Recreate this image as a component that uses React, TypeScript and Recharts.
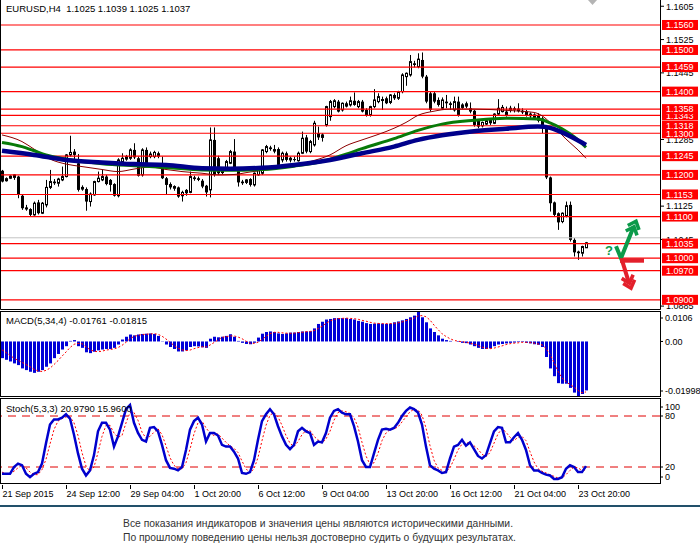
import React from "react";
import { ComposedChart, Bar, Line, XAxis, YAxis, ReferenceLine, ReferenceDot } from "recharts";

const FONT = '"Liberation Sans", Arial, sans-serif';

// ---------- candles (EURUSD H4) ----------
const openP = [
  1.1210,1.1186,1.1192,1.1194,1.1196,1.1150,1.1122,1.1118,1.1104,1.1134,
  1.1108,1.1128,1.1170,1.1184,1.1180,1.1188,1.1196,1.1248,1.1256,1.1228,
  1.1166,1.1166,1.1136,1.1152,1.1184,1.1188,1.1196,1.1188,1.1178,1.1150,
  1.1230,1.1238,1.1240,1.1260,1.1240,1.1200,1.1260,1.1244,1.1244,1.1252,
  1.1228,1.1192,1.1178,1.1168,1.1170,1.1150,1.1164,1.1158,1.1194,1.1192,
  1.1186,1.1174,1.1164,1.1284,1.1240,1.1206,1.1216,1.1228,1.1256,1.1212,
  1.1184,1.1182,1.1190,1.1176,1.1200,1.1204,1.1256,1.1266,1.1262,1.1262,
  1.1236,1.1252,1.1236,1.1238,1.1234,1.1252,1.1290,1.1256,1.1272,1.1300,
  1.1290,1.1320,1.1340,1.1364,1.1376,1.1356,1.1372,1.1368,1.1378,1.1364,
  1.1376,1.1356,1.1344,1.1364,1.1376,1.1380,1.1384,1.1374,1.1392,1.1384,
  1.1400,1.1436,1.1440,1.1468,1.1460,1.1476,1.1436,1.1396,1.1396,1.1380,
  1.1360,1.1376,1.1372,1.1356,1.1376,1.1362,1.1372,1.1360,1.1354,1.1330,
  1.1318,1.1322,1.1332,1.1324,1.1346,1.1352,1.1352,1.1356,1.1360,1.1354,
  1.1354,1.1352,1.1342,1.1338,1.1344,1.1336,1.1318,1.1194,1.1134,1.1108,
  1.1088,1.1102,1.1128,1.1044,1.1016,1.1012,1.1025,
];
const highP = [
  1.1212,1.1194,1.1199,1.1202,1.1198,1.1152,1.1128,1.1120,1.1136,1.1140,
  1.1135,1.1188,1.1212,1.1190,1.1193,1.1220,1.1250,1.1294,1.1262,1.1250,
  1.1175,1.1170,1.1158,1.1186,1.1208,1.1212,1.1200,1.1190,1.1180,1.1240,
  1.1252,1.1248,1.1264,1.1276,1.1244,1.1264,1.1266,1.1256,1.1258,1.1256,
  1.1244,1.1195,1.1182,1.1175,1.1172,1.1162,1.1166,1.1208,1.1198,1.1196,
  1.1190,1.1176,1.1314,1.1314,1.1246,1.1212,1.1236,1.1260,1.1286,1.1214,
  1.1188,1.1190,1.1192,1.1206,1.1216,1.1262,1.1272,1.1270,1.1272,1.1266,
  1.1256,1.1256,1.1244,1.1244,1.1256,1.1304,1.1296,1.1284,1.1330,1.1316,
  1.1300,1.1366,1.1380,1.1382,1.1380,1.1374,1.1376,1.1388,1.1398,1.1380,
  1.1380,1.1360,1.1366,1.1406,1.1396,1.1388,1.1388,1.1394,1.1396,1.1402,
  1.1444,1.1446,1.1488,1.1474,1.1492,1.1494,1.1440,1.1400,1.1400,1.1386,
  1.1386,1.1392,1.1376,1.1388,1.1388,1.1372,1.1376,1.1374,1.1356,1.1332,
  1.1328,1.1334,1.1336,1.1348,1.1382,1.1368,1.1364,1.1366,1.1364,1.1372,
  1.1360,1.1356,1.1350,1.1348,1.1348,1.1340,1.1320,1.1196,1.1136,1.1110,
  1.1110,1.1136,1.1136,1.1048,1.1018,1.1030,1.1039,
];
const lowP = [
  1.1182,1.1184,1.1190,1.1188,1.1144,1.1116,1.1114,1.1100,1.1102,1.1105,
  1.1106,1.1122,1.1166,1.1176,1.1172,1.1185,1.1194,1.1244,1.1232,1.1160,
  1.1162,1.1114,1.1124,1.1150,1.1182,1.1185,1.1175,1.1160,1.1148,1.1146,
  1.1228,1.1234,1.1236,1.1238,1.1196,1.1196,1.1220,1.1240,1.1240,1.1240,
  1.1190,1.1152,1.1165,1.1162,1.1145,1.1136,1.1150,1.1156,1.1186,1.1185,
  1.1168,1.1148,1.1146,1.1196,1.1200,1.1202,1.1212,1.1226,1.1214,1.1172,
  1.1176,1.1178,1.1172,1.1172,1.1198,1.1200,1.1252,1.1258,1.1252,1.1220,
  1.1230,1.1232,1.1230,1.1232,1.1232,1.1250,1.1252,1.1252,1.1268,1.1284,
  1.1280,1.1316,1.1330,1.1360,1.1350,1.1352,1.1362,1.1364,1.1366,1.1360,
  1.1350,1.1340,1.1340,1.1360,1.1372,1.1356,1.1370,1.1370,1.1380,1.1380,
  1.1396,1.1414,1.1436,1.1458,1.1456,1.1432,1.1372,1.1352,1.1372,1.1364,
  1.1356,1.1360,1.1356,1.1352,1.1340,1.1358,1.1360,1.1348,1.1316,1.1312,
  1.1314,1.1320,1.1320,1.1322,1.1344,1.1350,1.1340,1.1350,1.1350,1.1350,
  1.1346,1.1340,1.1336,1.1334,1.1326,1.1300,1.1190,1.1112,1.1100,1.1068,
  1.1084,1.1098,1.1040,1.1004,1.0996,1.1004,1.1025,
];
const closeP = [
  1.1184,1.1191,1.1197,1.1200,1.1152,1.1120,1.1117,1.1104,1.1132,1.1108,
  1.1132,1.1170,1.1184,1.1180,1.1190,1.1196,1.1248,1.1254,1.1248,1.1164,
  1.1170,1.1136,1.1154,1.1184,1.1192,1.1196,1.1178,1.1176,1.1150,1.1236,
  1.1240,1.1244,1.1260,1.1242,1.1198,1.1260,1.1224,1.1250,1.1254,1.1244,
  1.1192,1.1176,1.1170,1.1172,1.1148,1.1158,1.1156,1.1196,1.1190,1.1188,
  1.1172,1.1158,1.1284,1.1200,1.1204,1.1208,1.1232,1.1256,1.1216,1.1182,
  1.1180,1.1188,1.1176,1.1204,1.1212,1.1260,1.1268,1.1262,1.1256,1.1224,
  1.1252,1.1236,1.1240,1.1236,1.1252,1.1288,1.1256,1.1280,1.1324,1.1290,
  1.1296,1.1364,1.1376,1.1378,1.1352,1.1372,1.1364,1.1378,1.1368,1.1376,
  1.1352,1.1342,1.1364,1.1380,1.1388,1.1381,1.1372,1.1392,1.1384,1.1400,
  1.1440,1.1444,1.1472,1.1464,1.1478,1.1436,1.1376,1.1356,1.1376,1.1368,
  1.1380,1.1372,1.1368,1.1376,1.1344,1.1368,1.1364,1.1352,1.1320,1.1316,
  1.1326,1.1330,1.1324,1.1346,1.1360,1.1362,1.1342,1.1360,1.1356,1.1358,
  1.1350,1.1342,1.1346,1.1344,1.1330,1.1318,1.1194,1.1132,1.1104,1.1086,
  1.1108,1.1126,1.1044,1.1014,1.1012,1.1028,1.1037,
];

// ---------- moving averages, read at points along each line: [bar, price] ----------
const blueMA: [number, number][] = [
  [0,1.1258],[8,1.1248],[16,1.1236],[25,1.1230],[33,1.1226],[41,1.1224],[50,1.1216],[57,1.1215],
  [65,1.1217],[73,1.1224],[82,1.1236],[90,1.1252],[98,1.1268],[104,1.1284],[110,1.1295],[118,1.1305],
  [126,1.1311],[134,1.1316],[137,1.1313],[140,1.1302],[143,1.1288],[146,1.1272],
];
const greenMA: [number, number][] = [
  [0,1.1278],[5,1.1268],[8,1.1258],[11,1.1248],[16,1.1238],[25,1.1227],[33,1.1222],[41,1.1218],
  [50,1.1212],[57,1.1211],[65,1.1213],[73,1.1221],[80,1.1232],[86,1.1250],[90,1.1263],[98,1.1287],
  [104,1.1307],[110,1.1322],[118,1.1331],[126,1.1336],[134,1.1334],[137,1.1325],[140,1.1311],
  [143,1.1292],[146,1.1266],
];
const redMA: [number, number][] = [
  [0,1.1296],[5,1.1280],[8,1.1262],[12,1.1238],[16,1.1226],[20,1.1220],[25,1.1213],[29,1.1208],
  [33,1.1214],[37,1.1219],[41,1.1213],[45,1.1208],[50,1.1204],[54,1.1200],[58,1.1201],[62,1.1207],
  [69,1.1216],[77,1.1232],[82,1.1248],[86,1.1270],[90,1.1284],[94,1.1297],[98,1.1312],[101,1.1326],
  [104,1.1343],[108,1.1353],[112,1.1358],[118,1.1358],[126,1.1355],[133,1.1350],[135,1.1342],
  [137,1.1326],[139,1.1306],[141,1.1286],[144,1.1260],[146,1.1240],
];

// ---------- MACD(5,34,4) ----------
const macdHist = [
  -0.0060,-0.0066,-0.0072,-0.0079,-0.0085,-0.0097,-0.0103,-0.0109,-0.0113,-0.0109,
  -0.0103,-0.0091,-0.0079,-0.0060,-0.0045,-0.0029,-0.0017,0.0002,0.0005,-0.0017,
  -0.0023,-0.0039,-0.0042,-0.0037,-0.0032,-0.0029,-0.0027,-0.0027,-0.0023,-0.0011,
  0.0007,0.0017,0.0025,0.0022,0.0025,0.0027,0.0028,0.0029,0.0027,0.0020,
  0.0001,-0.0011,-0.0020,-0.0027,-0.0036,-0.0036,-0.0032,-0.0020,-0.0017,-0.0018,
  -0.0021,-0.0023,0.0010,0.0017,0.0015,0.0017,0.0020,0.0026,0.0017,0.0002,
  -0.0005,-0.0009,-0.0010,-0.0005,0.0014,0.0028,0.0034,0.0036,0.0034,0.0029,
  0.0027,0.0029,0.0032,0.0032,0.0034,0.0036,0.0036,0.0037,0.0047,0.0063,
  0.0071,0.0079,0.0081,0.0084,0.0084,0.0084,0.0084,0.0081,0.0079,0.0074,
  0.0071,0.0066,0.0063,0.0064,0.0065,0.0064,0.0063,0.0064,0.0069,0.0072,
  0.0076,0.0081,0.0087,0.0093,0.0106,0.0087,0.0069,0.0047,0.0034,0.0022,
  0.0010,0.0005,0.0002,0.0000,-0.0002,-0.0005,-0.0006,-0.0011,-0.0017,-0.0023,
  -0.0027,-0.0027,-0.0025,-0.0017,-0.0011,-0.0009,-0.0007,-0.0005,-0.0004,-0.0002,
  -0.0002,-0.0005,-0.0007,-0.0010,-0.0012,-0.0020,-0.0056,-0.0097,-0.0125,-0.0150,
  -0.0152,-0.0152,-0.0167,-0.0184,-0.01998,-0.0189,-0.01761,
];
const macdSignal = [
  -0.0030,-0.0040,-0.0050,-0.0060,-0.0068,-0.0075,-0.0083,-0.0091,-0.0100,-0.0106,
  -0.0108,-0.0104,-0.0096,-0.0083,-0.0069,-0.0053,-0.0038,-0.0022,-0.0010,-0.0007,
  -0.0008,-0.0019,-0.0030,-0.0035,-0.0037,-0.0035,-0.0031,-0.0029,-0.0027,-0.0022,
  -0.0014,-0.0003,0.0010,0.0018,0.0022,0.0025,0.0026,0.0027,0.0028,0.0026,
  0.0019,0.0009,-0.0003,-0.0014,-0.0024,-0.0030,-0.0033,-0.0031,-0.0026,-0.0022,
  -0.0019,-0.0020,-0.0013,-0.0004,0.0005,0.0015,0.0017,0.0020,0.0020,0.0016,
  0.0010,0.0001,-0.0006,-0.0007,-0.0003,0.0007,0.0018,0.0028,0.0033,0.0033,
  0.0031,0.0030,0.0029,0.0030,0.0032,0.0033,0.0035,0.0036,0.0039,0.0046,
  0.0055,0.0065,0.0074,0.0079,0.0082,0.0083,0.0084,0.0083,0.0082,0.0080,
  0.0076,0.0073,0.0069,0.0066,0.0065,0.0064,0.0064,0.0064,0.0065,0.0067,
  0.0070,0.0075,0.0079,0.0084,0.0092,0.0093,0.0089,0.0077,0.0059,0.0043,
  0.0028,0.0018,0.0010,0.0004,0.0001,-0.0001,-0.0003,-0.0006,-0.0010,-0.0014,
  -0.0020,-0.0024,-0.0026,-0.0024,-0.0020,-0.0016,-0.0011,-0.0008,-0.0006,-0.0005,
  -0.0003,-0.0003,-0.0004,-0.0006,-0.0009,-0.0012,-0.0025,-0.0046,-0.0075,-0.0107,
  -0.0131,-0.0145,-0.0155,-0.0164,-0.0176,-0.0185,-0.01815,
];

// ---------- Stochastic(5,3,3) ----------
const stochK = [
  12,12,12,20,24,22,12,8,12,14,
  24,48,70,76,76,78,82,77,58,36,
  18,10,16,34,62,72,72,64,44,56,
  72,88,93,72,60,52,50,66,67,62,
  46,28,19,18,16,20,40,64,74,78,
  70,50,60,60,57,46,44,44,38,30,
  13,12,14,28,52,74,82,88,82,68,
  56,46,41,46,62,66,62,60,46,50,
  49,60,78,86,88,84,82,82,68,50,
  28,20,20,36,52,64,65,64,66,72,
  80,86,90,88,84,70,44,22,18,16,
  13,14,30,44,46,52,45,49,41,33,
  30,34,48,62,67,66,49,49,55,60,
  52,40,22,16,16,13,11,10,6,6,
  8,18,22,20,14,14,20.979,
];
const stochD = [
  14,12,12,15,19,22,19,14,11,11,
  17,29,47,64,74,77,79,79,72,57,
  37,21,15,20,37,56,69,69,60,55,
  57,72,84,84,75,61,54,56,61,65,
  58,45,31,22,18,18,25,41,59,72,
  74,66,60,57,59,54,49,45,42,37,
  27,18,13,18,31,51,69,81,84,79,
  69,57,48,44,50,58,63,63,56,52,
  48,53,62,75,84,86,85,83,78,67,
  49,33,23,25,36,51,60,64,65,67,
  73,79,85,88,87,81,66,45,28,19,
  16,14,19,29,40,47,48,49,45,41,
  35,32,37,48,59,65,61,55,51,55,
  56,51,38,26,18,15,13,11,9,7,
  7,11,16,20,19,16,15.96,
];

// ---------- horizontal levels & axis ticks ----------
const levels = [1.0900,1.0970,1.1000,1.1035,1.1100,1.1153,1.1200,1.1245,1.1300,1.1318,1.1343,1.1358,1.1400,1.1459,1.1500,1.1560];
const scaleTicks = [1.1605,1.1525,1.1445,1.1285,1.1125,1.1045,1.0885];
const currentPriceLine = 1.1049;
const macdTicks = [0.0106, 0, -0.01998];
const stochTicks = [100, 80, 20, 0];
const dateTickBars = [0,16,32,48,64,80,96,112,128,144];
const dateLabels = ["21 Sep 2015","24 Sep 12:00","29 Sep 04:00","1 Oct 20:00","6 Oct 12:00","9 Oct 04:00","13 Oct 20:00","16 Oct 12:00","21 Oct 04:00","23 Oct 20:00"];

const N = closeP.length;
const SLOTS = 165;

const toMap = (pts: [number, number][]) => new Map(pts.map(([i, v]) => [i, v]));
const bMap = toMap(blueMA), gMap = toMap(greenMA), rMap = toMap(redMA);

const table = Array.from({ length: SLOTS }, (_, i) => {
  const has = i < N;
  return {
    i,
    o: has ? openP[i] : null,
    h: has ? highP[i] : null,
    l: has ? lowP[i] : null,
    c: has ? closeP[i] : null,
    macd: has ? macdHist[i] : null,
    sig: has ? macdSignal[i] : null,
    k: has ? stochK[i] : null,
    d: has ? stochD[i] : null,
    bma: bMap.has(i) ? bMap.get(i) : null,
    gma: gMap.has(i) ? gMap.get(i) : null,
    rma: rMap.has(i) ? rMap.get(i) : null,
  };
});

const levelLabels = new Set(levels.map((v) => v.toFixed(4)));
const priceTicks = [...scaleTicks, ...levels];

const Candle = (props: any) => {
  const { x, y, width, height, payload } = props;
  if (!payload || payload.h == null) return null;
  const top = Math.min(y, y + height);
  const bot = Math.max(y, y + height);
  const range = payload.h - payload.l;
  const ppu = range > 0 ? (bot - top) / range : 0;
  const yOf = (v: number) => top + (payload.h - v) * ppu;
  const cx = Math.floor(x + width / 2) + 0.5;
  const yo = yOf(payload.o);
  const yc = yOf(payload.c);
  const bTop = Math.min(yo, yc);
  const bBot = Math.max(yo, yc);
  const bull = payload.c >= payload.o;
  return (
    <g>
      <line x1={cx} x2={cx} y1={top} y2={bot} stroke="#000" strokeWidth={1} />
      {bull ? (
        <rect x={cx - 1} y={bTop} width={2} height={Math.max(bBot - bTop, 1)} fill="#fff" stroke="#000" strokeWidth={1} />
      ) : (
        <rect x={cx - 1.5} y={bTop} width={3} height={Math.max(bBot - bTop, 1)} fill="#000" />
      )}
    </g>
  );
};

const PriceTick = (props: any) => {
  const { x, y, payload } = props;
  const label = (payload.value as number).toFixed(4);
  if (levelLabels.has(label)) {
    return (
      <g>
        <rect x={x + 2} y={y - 5} width={36} height={10} fill="#ff0000" />
        <text x={x + 6} y={y + 3.3} fill="#fff" fontSize={9} fontFamily={FONT}>{label}</text>
      </g>
    );
  }
  return (
    <g>
      <line x1={x} x2={x + 4} y1={y} y2={y} stroke="#000" />
      <text x={x + 6} y={y + 3.3} fill="#000" fontSize={9} fontFamily={FONT}>{label}</text>
    </g>
  );
};

const MacdTick = (props: any) => {
  const { x, y, payload } = props;
  const v = payload.value as number;
  const label = v === 0 ? "0.00" : v > 0 ? v.toFixed(4) : v.toFixed(5);
  const dy = v > 0 ? 6 : v < 0 ? -6 : 0;
  return (
    <g>
      <line x1={x} x2={x + 3} y1={y + dy} y2={y + dy} stroke="#000" />
      <text x={x + 5} y={y + dy + 3.3} fill="#000" fontSize={9} fontFamily={FONT}>{label}</text>
    </g>
  );
};

const StochTick = (props: any) => {
  const { x, y, payload } = props;
  const v = payload.value as number;
  const dy = v === 100 ? 8 : v === 0 ? -7 : 0;
  return (
    <g>
      <line x1={x} x2={x + 3} y1={y + dy} y2={y + dy} stroke="#000" />
      <text x={x + 5} y={y + dy + 3.3} fill="#000" fontSize={9} fontFamily={FONT}>{String(v)}</text>
    </g>
  );
};

const DateTick = (props: any) => {
  const { x, y, payload } = props;
  const idx = dateTickBars.indexOf(payload.value);
  return (
    <g>
      <line x1={Math.floor(x) + 0.5} x2={Math.floor(x) + 0.5} y1={y + 1} y2={y + 5} stroke="#000" />
      <text x={x + 0.5} y={y + 12.5} fill="#000" fontSize={9} fontFamily={FONT}>{idx >= 0 ? dateLabels[idx] : ""}</text>
    </g>
  );
};

const Arrows = (props: any) => {
  const { cx, cy } = props;
  if (cx == null || cy == null) return null;
  const g = "#0b9a4a";
  const r = "#e3202b";
  const chev = (ax: number, ay: number, a1x: number, a1y: number, a2x: number, a2y: number, col: string) => (
    <polyline
      points={`${cx + ax + a1x},${cy + ay + a1y} ${cx + ax},${cy + ay} ${cx + ax + a2x},${cy + ay + a2y}`}
      fill="none" stroke={col} strokeWidth={3.6} strokeLinejoin="miter" strokeLinecap="butt"
    />
  );
  return (
    <g>
      <text x={cx - 17} y={cy - 3} fill={g} fontSize={13} fontWeight="bold" fontFamily={FONT}>?</text>
      <polyline points={`${cx - 6},${cy - 12} ${cx - 1},${cy} ${cx + 11},${cy - 30}`} fill="none" stroke={g} strokeWidth={4} />
      {chev(14, -37, 3, 8.7, -8.2, 4.3, g)}
      {chev(12, -31.5, 3, 8.7, -8.2, 4.3, g)}
      <rect x={cx - 2} y={cy} width={24} height={4.5} fill={r} />
      <line x1={cx} y1={cy + 2} x2={cx + 7} y2={cy + 25} stroke={r} strokeWidth={4} />
      {chev(9, 30, 3.6, -8.4, -7.8, -4.8, r)}
      {chev(7.5, 25, 3.6, -8.4, -7.8, -4.8, r)}
    </g>
  );
};

const candleRange = (d: any) => (d.h == null ? null : [d.l, d.h]);

export default function App() {
  return (
    <div style={{ position: "absolute", left: 0, top: 0, width: 700, height: 552, background: "#fff", overflow: "hidden" }}>
      {/* price panel */}
      <div style={{ position: "absolute", left: 0, top: 0 }}>
        <ComposedChart width={700} height={309} data={table} margin={{ top: 0, right: 0, bottom: 0, left: 0 }} barCategoryGap={0} barGap={0}>
          <XAxis dataKey="i" type="category" scale="band" hide />
          <YAxis
            orientation="right" width={40} domain={[1.0878, 1.162]} allowDataOverflow type="number"
            ticks={priceTicks} interval={0} tick={<PriceTick />} tickLine={false} axisLine={false} tickSize={0} tickMargin={0}
          />
          <ReferenceLine y={currentPriceLine} stroke="#c4c4c4" strokeWidth={1} />
          <Bar dataKey={candleRange} shape={(p: any) => <Candle {...p} />} isAnimationActive={false} />
          {levels.map((v) => (
            <ReferenceLine key={v} y={v} stroke="#ff0000" strokeWidth={1.2} />
          ))}
          <Line dataKey="rma" stroke="#8b0000" strokeWidth={1} dot={false} activeDot={false} connectNulls type="monotone" isAnimationActive={false} />
          <Line dataKey="gma" stroke="#087a08" strokeWidth={3} dot={false} activeDot={false} connectNulls type="monotone" isAnimationActive={false} />
          <Line dataKey="bma" stroke="#00008b" strokeWidth={4.5} dot={false} activeDot={false} connectNulls type="monotone" isAnimationActive={false} />
          <ReferenceDot x={155} y={1.1} r={1} shape={(p: any) => <Arrows {...p} />} />
        </ComposedChart>
      </div>

      {/* MACD panel */}
      <div style={{ position: "absolute", left: 0, top: 312 }}>
        <ComposedChart width={700} height={85} data={table} margin={{ top: 0, right: 0, bottom: 0, left: 0 }} barCategoryGap={0} barGap={0}>
          <XAxis dataKey="i" type="category" scale="band" hide />
          <YAxis
            orientation="right" width={40} domain={[-0.01998, 0.0106]} allowDataOverflow type="number"
            ticks={macdTicks} interval={0} tick={<MacdTick />} tickLine={false} axisLine={false} tickSize={0} tickMargin={0}
          />
          <Bar dataKey="macd" fill="#0000d8" barSize={3} isAnimationActive={false} />
          <Line dataKey="sig" stroke="#ff0000" strokeWidth={1} strokeDasharray="2 2" dot={false} activeDot={false} type="linear" isAnimationActive={false} />
        </ComposedChart>
      </div>

      {/* Stochastic panel */}
      <div style={{ position: "absolute", left: 0, top: 399 }}>
        <ComposedChart width={700} height={105} data={table} margin={{ top: 0, right: 0, bottom: 0, left: 0 }}>
          <XAxis
            dataKey="i" type="category" scale="band" height={20} ticks={dateTickBars} interval={0}
            tick={<DateTick />} tickLine={false} axisLine={false} tickSize={0} tickMargin={0}
          />
          <YAxis
            orientation="right" width={40} domain={[0, 100]} allowDataOverflow type="number"
            ticks={stochTicks} interval={0} tick={<StochTick />} tickLine={false} axisLine={false} tickSize={0} tickMargin={0}
          />
          <ReferenceLine y={80} stroke="#e00000" strokeWidth={1} strokeDasharray="8 6" />
          <ReferenceLine y={20} stroke="#e00000" strokeWidth={1} strokeDasharray="8 6" />
          <Line dataKey="d" stroke="#ff0000" strokeWidth={1} strokeDasharray="2 2" dot={false} activeDot={false} type="linear" isAnimationActive={false} />
          <Line dataKey="k" stroke="#0000cd" strokeWidth={2.5} dot={false} activeDot={false} type="linear" isAnimationActive={false} />
        </ComposedChart>
      </div>

      {/* frame, titles and footer */}
      <svg width={700} height={552} style={{ position: "absolute", left: 0, top: 0, pointerEvents: "none" }}>
        <path d="M0.5,0 V309.5 H660.5 V0" fill="none" stroke="#000" strokeWidth={1} />
        <rect x={0.5} y={311.5} width={660} height={85} fill="none" stroke="#000" strokeWidth={1} />
        <rect x={0.5} y={398.5} width={660} height={85} fill="none" stroke="#000" strokeWidth={1} />
        <polygon points="588,0 597,0 592.5,5" fill="#b4b4b4" />
        <text x={6} y={11.5} fontSize={9.5} fontFamily={FONT} fill="#000" xmlSpace="preserve">EURUSD,H4  1.1025 1.1039 1.1025 1.1037</text>
        <text x={6} y={324} fontSize={9.5} fontFamily={FONT} fill="#000">MACD(5,34,4) -0.01761 -0.01815</text>
        <text x={6} y={412} fontSize={9.5} fontFamily={FONT} fill="#000">Stoch(5,3,3) 20.9790 15.9600</text>
        <rect x={0} y={505} width={700} height={2} fill="#22506a" />
        <text x={123} y={527} fontSize={11} fontFamily={FONT} fill="#333" textLength={390} lengthAdjust="spacingAndGlyphs">
          Все показания индикаторов и значения цены являются историческими данными.
        </text>
        <text x={123} y={541} fontSize={11} fontFamily={FONT} fill="#333" textLength={393} lengthAdjust="spacingAndGlyphs">
          По прошлому поведению цены нельзя достоверно судить о будущих результатах.
        </text>
      </svg>
    </div>
  );
}
